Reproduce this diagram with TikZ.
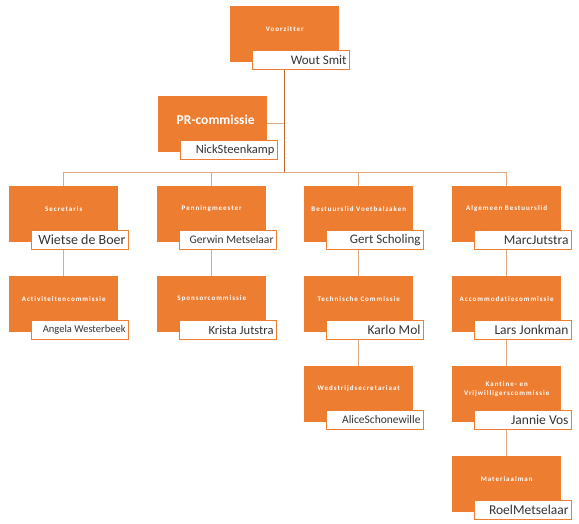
\documentclass[tikz,border=0pt]{standalone}
\usepackage{fontspec}
\setmainfont{Carlito}
\newfontfamily\titlefont[LetterSpace=14,Ligatures=NoCommon]{Carlito}
\definecolor{orgbox}{HTML}{ED7D31}
\definecolor{linedark}{HTML}{C0622A}
\definecolor{linelight}{HTML}{DDA984}
\begin{document}
\begin{tikzpicture}[x=1pt,y=-1pt,
  rolebox/.style={fill=orgbox,draw=none,minimum width=109pt,minimum height=56pt,inner sep=0pt,anchor=north west},
  roletext/.style={text=white,font=\titlefont\bfseries\fontsize{7}{8.5}\selectfont,align=center,inner sep=0pt},
  namebox/.style={fill=white,draw=orgbox,line width=0.7pt,minimum width=97pt,minimum height=19pt,inner sep=0pt,anchor=north west},
  nametext/.style={text=black!80,inner sep=0pt,anchor=east},
  conn/.style={draw=linelight,line width=0.9pt},
  mainconn/.style={draw=linedark,line width=1.8pt}]
\useasboundingbox (0,0) rectangle (579,523);
\newcommand{\orgunit}[6]{%
  \node[rolebox] (#1) at (#2,#3) {};
  \node[roletext] (#1t) at ([yshift=-23pt]#1.north) {#4};
  \node[namebox] (#1n) at ([xshift=22pt,yshift=-44pt]#1.north west) {};
  \node[nametext,font=\fontsize{#6}{#6}\selectfont] (#1p) at ([xshift=-3pt]#1n.east) {#5};
}
% connectors (drawn first, behind boxes)
\coordinate (busL) at (63.5,172);
\coordinate (busR) at (506.5,172);
\coordinate (busM) at (284.5,172);
\coordinate (prJ) at (284.5,123);
\coordinate (prS) at (212,123);
\coordinate (topC) at (284.5,34);
\coordinate (b2) at (211.5,172);
\coordinate (b3) at (358.5,172);
\coordinate (e1) at (63.5,304);
\coordinate (e2) at (211.5,304);
\coordinate (e3) at (358.5,394);
\coordinate (e4) at (506.5,484);
\draw[conn] (busL) -- (busR);
\draw[conn] (busL) -- (e1);
\draw[conn] (b2) -- (e2);
\draw[conn] (b3) -- (e3);
\draw[conn] (busR) -- (e4);
\draw[conn] (prS) -- (prJ);
\draw[mainconn] (topC) -- (busM);
% units
\orgunit{vz}{230}{6}{Voorzitter}{Wout Smit}{13}
\node[rolebox] (pr) at (158,96) {};
\node[text=white,font=\bfseries\fontsize{13.5}{15}\selectfont,inner sep=0pt] (prt) at ([xshift=3pt,yshift=-24pt]pr.north) {PR-commissie};
\node[namebox] (prn) at ([xshift=22pt,yshift=-44pt]pr.north west) {};
\node[nametext,font=\fontsize{12.5}{12.5}\selectfont] (prp) at ([xshift=-3pt]prn.east) {NickSteenkamp};
\orgunit{sec}{9}{186}{Secretaris}{Wietse de Boer}{14}
\orgunit{pen}{157}{186}{Penningmeester}{Gerwin Metselaar}{11.5}
\orgunit{bvz}{304}{186}{Bestuurslid Voetbalzaken}{Gert Scholing}{13}
\orgunit{alg}{452}{186}{Algemeen Bestuurslid}{MarcJutstra}{13.5}
\orgunit{act}{9}{276}{Activiteitencommissie}{Angela Westerbeek}{10.5}
\orgunit{spo}{157}{276}{Sponsorcommissie}{Krista Jutstra}{12.5}
\orgunit{tec}{304}{276}{Technische Commissie}{Karlo Mol}{13.5}
\orgunit{acc}{452}{276}{Accommodatiecommissie}{Lars Jonkman}{13.5}
\orgunit{wed}{304}{366}{Wedstrijdsecretariaat}{AliceSchonewille}{11.5}
\orgunit{kan}{452}{366}{Kantine- en\\Vrijwilligerscommissie}{Jannie Vos}{13.5}
\orgunit{mat}{452}{456}{Materiaalman}{RoelMetselaar}{13.5}
\end{tikzpicture}
\end{document}
